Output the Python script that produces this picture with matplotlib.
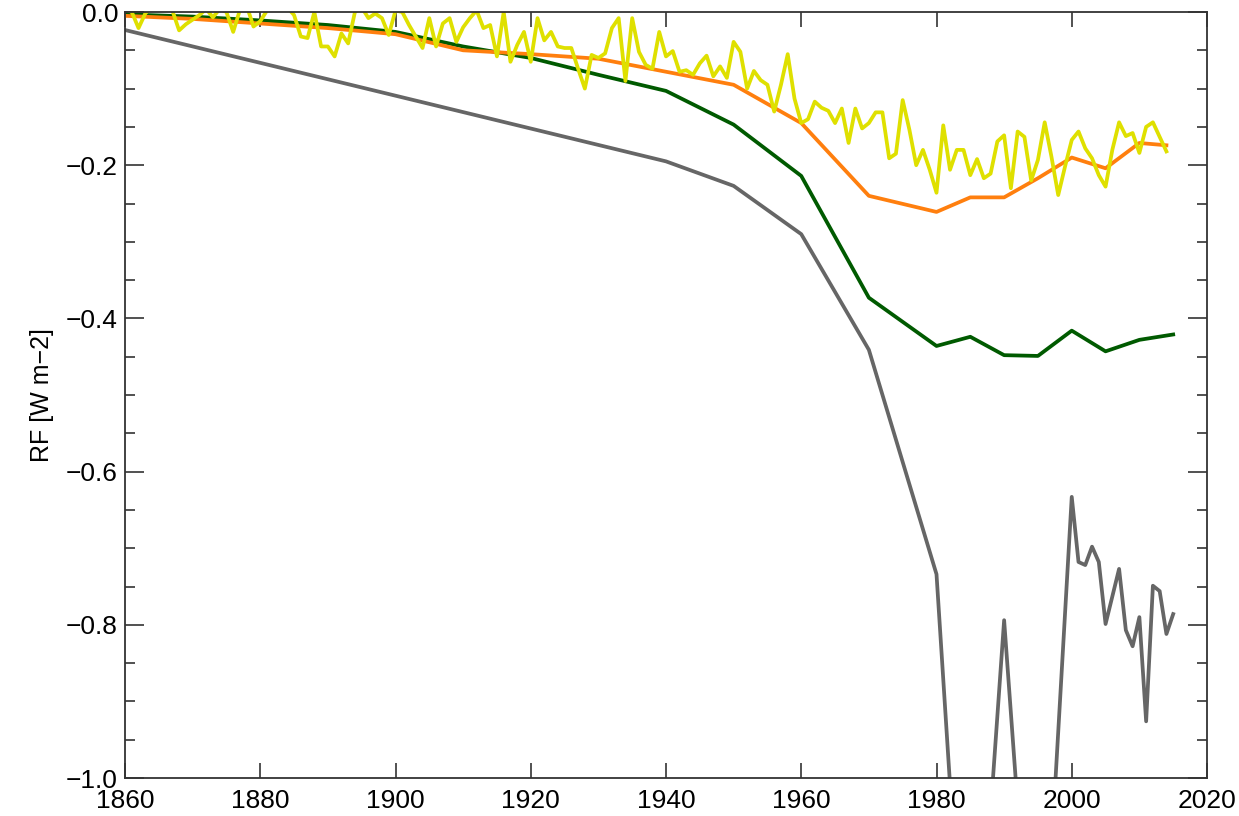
import matplotlib
matplotlib.use("Agg")
import matplotlib.pyplot as plt
from matplotlib.ticker import MultipleLocator

plt.rcParams['font.family'] = ['Liberation Sans', 'DejaVu Sans']

# ---- data ----
gray_years = [1860, 1940, 1950, 1960, 1970, 1980, 1985, 1990, 1995, 2000,
              2001, 2002, 2003, 2004, 2005, 2006, 2007, 2008, 2009, 2010,
              2011, 2012, 2013, 2014, 2015]
gray_vals = [-0.0235, -0.195, -0.227, -0.290, -0.441, -0.734, -1.42, -0.794, -1.40, -0.633,
             -0.718, -0.722, -0.698, -0.718, -0.799, -0.763, -0.727, -0.807, -0.828, -0.790,
             -0.926, -0.749, -0.756, -0.812, -0.786]

green_years = [1860, 1870, 1880, 1890, 1900, 1910, 1920, 1930, 1940, 1950, 1960,
               1970, 1980, 1985, 1990, 1995, 2000, 2005, 2010, 2015]
green_vals = [-0.003, -0.006, -0.011, -0.017, -0.026, -0.045, -0.060, -0.082, -0.103, -0.147, -0.214,
              -0.373, -0.436, -0.424, -0.448, -0.449, -0.416, -0.443, -0.428, -0.421]

orange_years = [1860, 1870, 1880, 1890, 1900, 1910, 1920, 1930, 1940, 1950, 1960,
                1970, 1980, 1985, 1990, 1995, 2000, 2005, 2010, 2014]
orange_vals = [-0.005, -0.009, -0.015, -0.021, -0.029, -0.050, -0.055, -0.061, -0.078, -0.095, -0.145,
               -0.240, -0.261, -0.242, -0.242, -0.217, -0.190, -0.204, -0.171, -0.174]

yellow_years = list(range(1860, 2015))
yellow_vals = [
    0.004, 0.000, -0.021, -0.002, 0.008, 0.010, 0.006, 0.002, -0.024, -0.016,   # 1860s
    -0.010, -0.004, 0.004, -0.007, 0.004, 0.000, -0.026, 0.003, 0.008, -0.019,  # 1870s
    -0.012, 0.002, 0.010, 0.012, 0.006, -0.004, -0.032, -0.034, 0.000, -0.045,  # 1880s
    -0.045, -0.058, -0.028, -0.041, 0.000, 0.006, -0.008, -0.002, -0.008, -0.030,  # 1890s
    0.002, 0.000, -0.017, -0.032, -0.047, -0.008, -0.045, -0.015, -0.008, -0.039,  # 1900s
    -0.020, -0.008, 0.002, -0.021, -0.017, -0.058, 0.000, -0.065, -0.043, -0.026,  # 1910s
    -0.065, -0.008, -0.037, -0.026, -0.045, -0.047, -0.047, -0.074, -0.100, -0.056,  # 1920s
    -0.060, -0.054, -0.021, -0.008, -0.090, -0.008, -0.052, -0.069, -0.074, -0.026,  # 1930s
    -0.058, -0.051, -0.078, -0.076, -0.082, -0.067, -0.057, -0.084, -0.071, -0.086,  # 1940s
    -0.039, -0.052, -0.100, -0.077, -0.089, -0.095, -0.130, -0.095, -0.055, -0.113,  # 1950s
    -0.145, -0.140, -0.117, -0.125, -0.129, -0.145, -0.126, -0.171, -0.126, -0.152,  # 1960s
    -0.145, -0.131, -0.131, -0.191, -0.185, -0.115, -0.154, -0.200, -0.180, -0.206,  # 1970s
    -0.236, -0.148, -0.206, -0.180, -0.180, -0.213, -0.192, -0.217, -0.211, -0.169,  # 1980s
    -0.161, -0.230, -0.156, -0.163, -0.220, -0.193, -0.144, -0.189, -0.239, -0.202,  # 1990s
    -0.167, -0.156, -0.178, -0.191, -0.213, -0.228, -0.180, -0.144, -0.162, -0.158,  # 2000s
    -0.184, -0.150, -0.144, -0.163, -0.182,                                          # 2010s
]

x_ticks = [1860, 1880, 1900, 1920, 1940, 1960, 1980, 2000, 2020]
y_ticks = [0.0, -0.2, -0.4, -0.6, -0.8, -1.0]
y_tick_labels = ["0.0", "\u22120.2", "\u22120.4", "\u22120.6", "\u22120.8", "\u22121.0"]

# ---- figure ----
fig = plt.figure(figsize=(12.39, 8.16), dpi=100)
ax = fig.add_axes([125 / 1239, 38 / 816, (1207 - 125) / 1239, (778 - 12) / 816])

lw = 2.7
ax.plot(gray_years, gray_vals, color='#666666', lw=lw)
ax.plot(green_years, green_vals, color='#005a00', lw=lw)
ax.plot(orange_years, orange_vals, color='#ff7f0e', lw=lw)
ax.plot(yellow_years, yellow_vals, color='#dfe000', lw=lw)

ax.set_xlim(1860, 2020)
ax.set_ylim(-1.0, 0.0)
ax.set_xticks(x_ticks)
ax.set_yticks(y_ticks)
ax.set_yticklabels(y_tick_labels)
ax.yaxis.set_minor_locator(MultipleLocator(0.05))

ax.tick_params(axis='both', which='both', direction='in', top=True, right=True,
               colors='#333333', labelcolor='black', labelsize=19, width=1.2)
ax.tick_params(axis='x', which='major', length=11, pad=8)
ax.tick_params(axis='y', which='major', length=14, pad=5)
ax.tick_params(axis='y', which='minor', length=7)

for s in ax.spines.values():
    s.set_color('#333333')
    s.set_linewidth(1.3)

ax.set_ylabel("RF [W m\u22122]", fontsize=18, labelpad=9)

fig.savefig("out.png", dpi=100)
